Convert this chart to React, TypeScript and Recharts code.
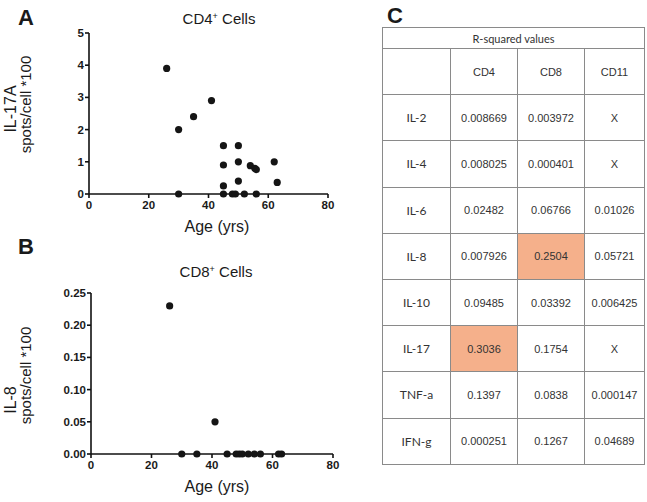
import React from 'react'
import { ScatterChart, Scatter, XAxis, YAxis } from 'recharts'

// panel A: CD4+ cells, IL-17A vs age
const cd4Age = [26, 30, 30, 35, 41, 45, 45, 45, 45, 48, 49, 50, 50, 50, 52, 54, 55.5, 56, 56, 62, 63]
const cd4Il17 = [3.9, 2.0, 0, 2.4, 2.9, 1.5, 0.9, 0.25, 0, 0, 0, 1.5, 1.0, 0.4, 0, 0.88, 0.8, 0.76, 0, 1.0, 0.36]

// panel B: CD8+ cells, IL-8 vs age
const cd8Age = [26, 30, 35, 41, 45, 48, 49, 50, 52, 54, 56, 62, 63]
const cd8Il8 = [0.23, 0, 0, 0.05, 0, 0, 0, 0, 0, 0, 0, 0, 0]

const ageTicks = [0, 20, 40, 60, 80]
const cd4Ticks = [0, 1, 2, 3, 4, 5]
const cd8Ticks = [0, 0.05, 0.1, 0.15, 0.2, 0.25]

// panel C: R-squared table
const tableCols = ['CD4', 'CD8', 'CD11']
const tableRows = ['IL-2', 'IL-4', 'IL-6', 'IL-8', 'IL-10', 'IL-17', 'TNF-a', 'IFN-g']
const cd4R2 = ['0.008669', '0.008025', '0.02482', '0.007926', '0.09485', '0.3036', '0.1397', '0.000251']
const cd8R2 = ['0.003972', '0.000401', '0.06766', '0.2504', '0.03392', '0.1754', '0.0838', '0.1267']
const cd11R2 = ['X', 'X', '0.01026', '0.05721', '0.006425', 'X', '0.000147', '0.04689']
const highlighted = ['IL-17|CD4', 'IL-8|CD8']

const sans = '"Liberation Sans", Arial, sans-serif'
const axisStroke = { stroke: '#111', strokeWidth: 1.6 }

const Dot = (props: any) => <circle cx={props.cx} cy={props.cy} r={3.6} fill="#151515" />

const makeTick = (fmt: (v: number) => string, axis: 'x' | 'y') => (props: any) => {
  const { x, y, payload } = props
  return (
    <text
      x={x}
      y={y}
      dy={axis === 'x' ? 9 : 4}
      textAnchor={axis === 'x' ? 'middle' : 'end'}
      fontFamily={sans}
      fontSize={11.5}
      fontWeight={700}
      fill="#1a1a1a"
    >
      {fmt(payload.value)}
    </text>
  )
}

function Panel(props: {
  top: number
  ages: number[]
  values: number[]
  yTicks: number[]
  yFormat: (v: number) => string
  marginTop: number
  marginLeft: number
  marginRight: number
  height: number
}) {
  const data = props.ages.map((a, i) => ({ age: a, v: props.values[i] }))
  return (
    <div style={{ position: 'absolute', left: 0, top: props.top }}>
      <ScatterChart
        width={345}
        height={props.height}
        margin={{ top: props.marginTop, right: props.marginRight, bottom: 16, left: props.marginLeft }}
      >
        <XAxis
          type="number"
          dataKey="age"
          domain={[0, 80]}
          ticks={ageTicks}
          tick={makeTick((v) => String(v), 'x')}
          axisLine={axisStroke}
          tickLine={axisStroke}
          tickSize={4}
          tickMargin={2}
          height={30}
        />
        <YAxis
          type="number"
          dataKey="v"
          domain={[props.yTicks[0], props.yTicks[props.yTicks.length - 1]]}
          ticks={props.yTicks}
          tick={makeTick(props.yFormat, 'y')}
          axisLine={axisStroke}
          tickLine={axisStroke}
          tickSize={4}
          tickMargin={1}
          width={50}
        />
        <Scatter data={data} shape={Dot} isAnimationActive={false} />
      </ScatterChart>
    </div>
  )
}

function Txt(props: { x: number; y: number; size: number; bold?: boolean; rotate?: boolean; children: React.ReactNode }) {
  const w = 200
  const h = props.size + 4
  return (
    <div
      style={{
        position: 'absolute',
        left: props.x - w / 2,
        top: props.y - h / 2,
        width: w,
        height: h,
        lineHeight: h + 'px',
        textAlign: 'center',
        fontSize: props.size,
        fontWeight: props.bold ? 700 : 400,
        color: '#1a1a1a',
        whiteSpace: 'nowrap',
        transform: props.rotate ? 'rotate(-90deg)' : undefined,
      }}
    >
      {props.children}
    </div>
  )
}

const Sup = () => <span style={{ fontSize: 9, position: 'relative', top: -5 }}>+</span>

const cell: React.CSSProperties = {
  border: '1px solid #8a8a8a',
  padding: 0,
  textAlign: 'center',
  verticalAlign: 'middle',
}
const numFont: React.CSSProperties = { fontFamily: sans, fontSize: 11, color: '#333' }
const labelFont: React.CSSProperties = { fontFamily: 'Lato, "Open Sans", sans-serif', fontSize: 12, color: '#333' }

function R2Table() {
  const cols = [cd4R2, cd8R2, cd11R2]
  return (
    <table
      style={{
        position: 'absolute',
        left: 382,
        top: 27,
        width: 262,
        borderCollapse: 'collapse',
        tableLayout: 'fixed',
      }}
    >
      <colgroup>
        <col style={{ width: 68 }} />
        <col style={{ width: 67 }} />
        <col style={{ width: 67 }} />
        <col style={{ width: 60 }} />
      </colgroup>
      <tbody>
        <tr style={{ height: 21 }}>
          <td colSpan={4} style={{ ...cell, ...labelFont, fontSize: 11 }}>R-squared values</td>
        </tr>
        <tr style={{ height: 46.2 }}>
          <td style={cell} />
          {tableCols.map((c) => (
            <td key={c} style={{ ...cell, ...numFont }}>{c}</td>
          ))}
        </tr>
        {tableRows.map((r, i) => (
          <tr key={r} style={{ height: 46.2 }}>
            <td style={{ ...cell, ...labelFont }}>{r}</td>
            {cols.map((col, j) => (
              <td
                key={j}
                style={{
                  ...cell,
                  ...numFont,
                  background: highlighted.includes(r + '|' + tableCols[j]) ? '#F5B08B' : '#fff',
                }}
              >
                {col[i]}
              </td>
            ))}
          </tr>
        ))}
      </tbody>
    </table>
  )
}

export default function App() {
  return (
    <div
      style={{
        position: 'absolute',
        left: 0,
        top: 0,
        width: 647,
        height: 502,
        background: '#fff',
        fontFamily: sans,
        overflow: 'hidden',
      }}
    >
      <Panel
        top={0}
        height={240}
        ages={cd4Age}
        values={cd4Il17}
        yTicks={cd4Ticks}
        yFormat={(v) => String(v)}
        marginTop={33}
        marginLeft={39}
        marginRight={17}
      />
      <Panel
        top={250}
        height={250}
        ages={cd8Age}
        values={cd8Il8}
        yTicks={cd8Ticks}
        yFormat={(v) => v.toFixed(2)}
        marginTop={43}
        marginLeft={41}
        marginRight={12}
      />

      <Txt x={26} y={18} size={22} bold>A</Txt>
      <Txt x={26} y={247} size={22} bold>B</Txt>
      <Txt x={395} y={16} size={22} bold>C</Txt>

      <Txt x={219} y={18} size={15}>CD4<Sup /> Cells</Txt>
      <Txt x={216} y={271} size={15}>CD8<Sup /> Cells</Txt>

      <Txt x={217} y={227} size={16}>Age (yrs)</Txt>
      <Txt x={217} y={487} size={16}>Age (yrs)</Txt>

      <Txt x={11} y={109} size={16} rotate>IL-17A</Txt>
      <Txt x={25} y={104} size={15} rotate>spots/cell *100</Txt>
      <Txt x={11} y={400} size={16} rotate>IL-8</Txt>
      <Txt x={25} y={375} size={15} rotate>spots/cell *100</Txt>

      <R2Table />
    </div>
  )
}
